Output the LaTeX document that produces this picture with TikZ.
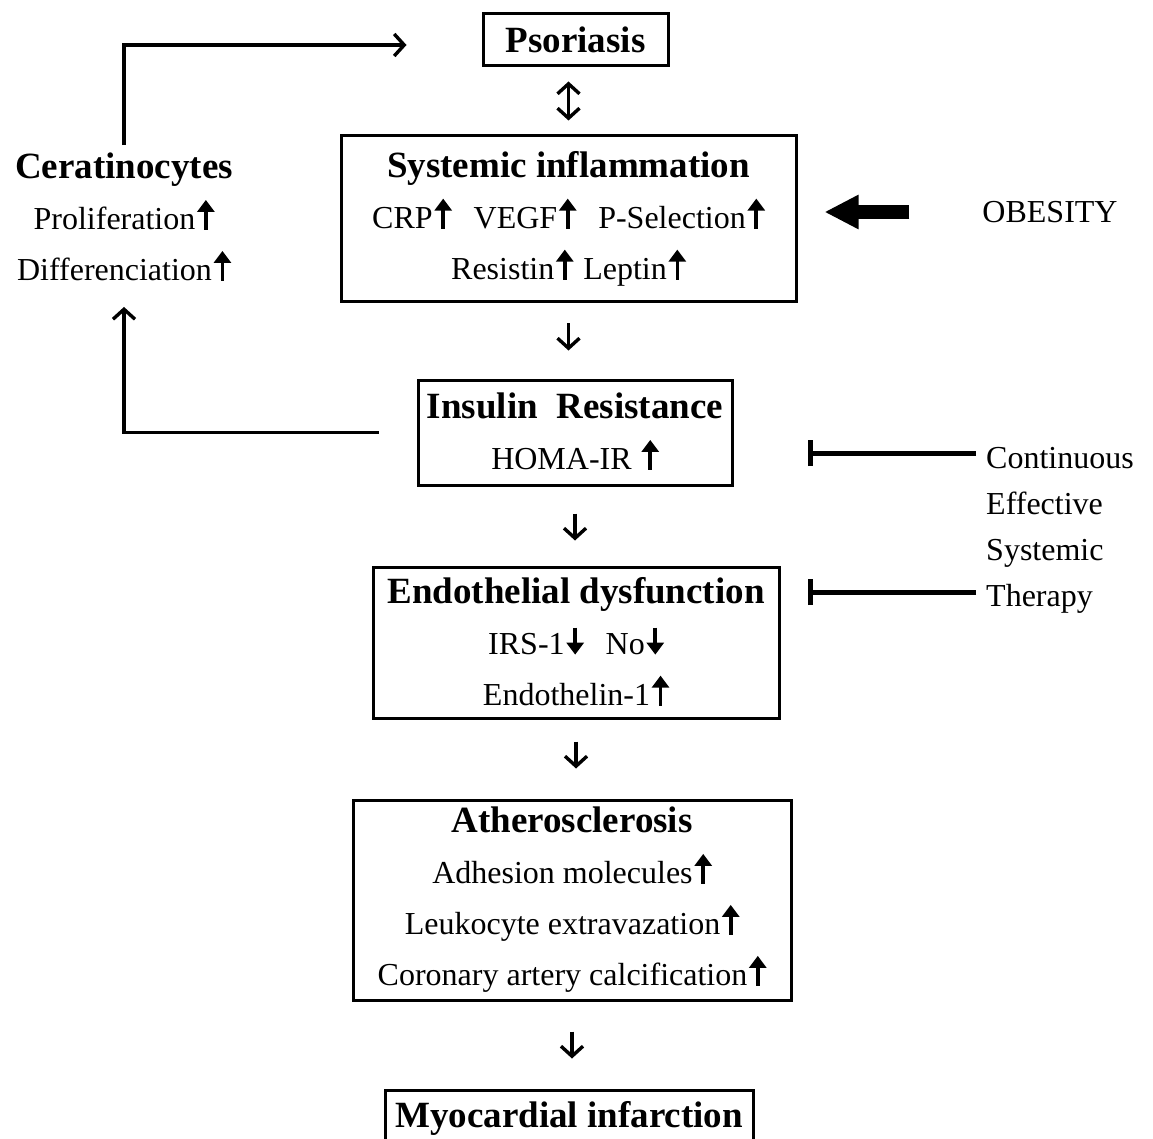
\documentclass[tikz,border=0pt]{standalone}
\usepackage{fontspec}
\setmainfont{Liberation Serif}
\usetikzlibrary{arrows.meta}
\newcommand{\hd}[1]{{\bfseries\fontsize{37}{51}\selectfont #1}}
\newcommand{\up}{\hspace{2pt}\tikz[baseline=0pt]\draw[line width=3.6pt,-{Triangle[length=12pt,width=17pt]}] (0pt,0pt) -- (0pt,30pt);}
\newcommand{\dn}{\hspace{2pt}\tikz[baseline=0pt]\draw[line width=3.6pt,-{Triangle[length=12pt,width=17pt]}] (0pt,27pt) -- (0pt,0pt);}

\begin{document}
\begin{tikzpicture}[x=1pt,y=-1pt,>={Straight Barb[length=10pt,width=22pt]},
  box/.style={draw,line width=3pt,align=center,inner sep=0pt,font=\fontsize{32}{51}\selectfont},
  txt/.style={align=center,inner sep=0pt,font=\fontsize{32}{51}\selectfont},
  conn/.style={line width=3.4pt,->},
  inhib/.style={line width=5pt,-{Bar[width=26pt]}}]
  \useasboundingbox (0,0) rectangle (1153,1139);
  % main chain
  \node[box,minimum width=185pt,minimum height=52pt] (psor) at (575.5,40) {\hd{Psoriasis}};
  \node[box,minimum width=455pt,minimum height=166pt] (sys) at (568.5,219)
    {\hd{Systemic inflammation}\\CRP\up\hspace{22pt}VEGF\up\hspace{22pt}P-Selection\up\\Resistin\up\hspace{10pt}Leptin\up};
  \node[box,minimum width=314pt,minimum height=105pt] (ins) at (575,432.5)
    {\hd{Insulin\ \ Resistance}\\HOMA-IR \up};
  \node[box,minimum width=406pt,minimum height=151pt] (endo) at (576,642.5)
    {\hd{Endothelial dysfunction}\\IRS-1\dn\hspace{22pt}No\dn\\Endothelin-1\up};
  \node[box,minimum width=438pt,minimum height=200pt] (ath) at (572,900)
    {\hd{Atherosclerosis}\\Adhesion molecules\up\\Leukocyte extravazation\up\\Coronary artery calcification\up};
  \node[box,minimum width=368pt,minimum height=56pt] (myo) at (569,1118) {\hd{Myocardial infarction}};
  % side texts
  \node[txt] (cer) at (124,218) {\hd{Ceratinocytes}\\Proliferation\up\\Differenciation\up};
  \node[txt] (obes) at (1050,212) {OBESITY};
  \node[txt,anchor=west,align=left,font=\fontsize{32}{46}\selectfont] (thr) at (986,530)
    {Continuous\\Effective\\Systemic\\Therapy};
  \coordinate (inhA) at (976,453);
  \coordinate (inhB) at (976,592);
  % connectors
  \draw[conn,<->,shorten <=14pt,shorten >=14pt] (sys.north |- psor.south) -- (sys.north);
  \draw[conn,shorten <=20pt,shorten >=28pt] (sys.south) -- (sys.south |- ins.north);
  \draw[conn,shorten <=27pt,shorten >=25pt] (ins.south) -- (ins.south |- endo.north);
  \draw[conn,shorten <=22pt,shorten >=30pt] (endo.south) -- (endo.south |- ath.north);
  \draw[conn,shorten <=30pt,shorten >=30pt] (ath.south) -- (ath.south |- myo.north);
  \draw[conn,shorten <=8pt,shorten >=75pt] (cer.north) |- ([yshift=-5pt]psor.west);
  \draw[conn,shorten <=38pt,shorten >=24pt] (ins.west) -| (cer.south);
  \draw[line width=14pt,-{Triangle[length=34pt,width=32pt]},shorten <=73pt,shorten >=27pt]
    (obes.west) -- (obes.west -| sys.east);
  \draw[inhib,shorten >=74pt] (inhA) -- (inhA -| ins.east);
  \draw[inhib,shorten >=27pt] (inhB) -- (inhB -| endo.east);
\end{tikzpicture}
\end{document}
